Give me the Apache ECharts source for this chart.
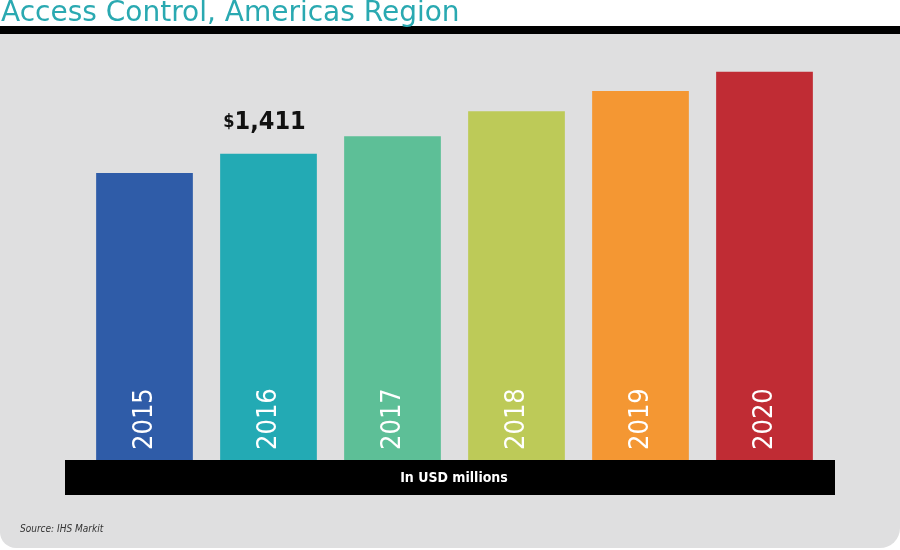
<!DOCTYPE html>
<html>
<head>
<meta charset="utf-8">
<title>Access Control, Americas Region</title>
<script src="https://cdn.jsdelivr.net/npm/echarts@6/dist/echarts.min.js"></script>
<style>
  html, body { margin: 0; padding: 0; background: #fff; }
  #chart { width: 900px; height: 550px; }
</style>
</head>
<body>
<div id="chart"></div>
<script>
// values in USD millions (only 2016 is printed)
const years = ['2015', '2016', '2017', '2018', '2019', '2020'];
const revenue = [1323, 1411, 1492, 1607, 1701, 1789];
const barColors = ['#2f5ca8', '#23aab4', '#5dbf97', '#bdca58', '#f49733', '#c02c34'];
const labelledYear = '2016';

const narrow = "'Liberation Sans Narrow', 'DejaVu Sans Condensed', sans-serif";

const chart = echarts.init(document.getElementById('chart'));

const barData = revenue.map((v, i) => ({
  value: v,
  itemStyle: { color: barColors[i] },
  label: { show: years[i] === labelledYear }
}));

chart.setOption({
  backgroundColor: '#fff',
  animation: false,
  title: {
    text: 'Access Control, Americas Region',
    left: 1,
    top: 0,
    padding: 0,
    textStyle: {
      fontFamily: "'DejaVu Sans', sans-serif",
      fontWeight: 'normal',
      fontSize: 28,
      color: '#2aa9b1'
    }
  },
  grid: { left: 82.5, right: 73.5, top: 26, bottom: 90 },
  xAxis: {
    type: 'category',
    data: years,
    z: 10,
    axisLine: { show: false },
    axisTick: { show: false },
    axisLabel: {
      inside: true,
      rotate: 90,
      margin: 10,
      color: '#fff',
      fontFamily: narrow,
      fontWeight: 500,
      fontSize: 27
    }
  },
  yAxis: {
    type: 'value',
    min: 0,
    max: 2000,
    show: false,
    splitLine: { show: false }
  },
  series: [{
    type: 'bar',
    data: barData,
    barCategoryGap: '22%',
    label: {
      position: 'top',
      distance: 19,
      offset: [-4, 0],
      formatter: p => '{s|$}{v|' + p.value.toLocaleString('en-US') + '}',
      rich: {
        s: { fontFamily: narrow, fontWeight: 'bold', fontSize: 18, color: '#111', verticalAlign: 'middle' },
        v: { fontFamily: narrow, fontWeight: 'bold', fontSize: 25, color: '#111' }
      }
    }
  }],
  graphic: [
    // grey panel with rounded bottom corners
    { type: 'rect', z: -10, shape: { x: 0, y: 30, width: 900, height: 518, r: [0, 0, 20, 16] }, style: { fill: '#dfdfe0' } },
    // black rule under the title
    { type: 'rect', z: -5, shape: { x: 0, y: 26, width: 900, height: 8 }, style: { fill: '#000' } },
    // unit band under the bars
    { type: 'rect', z: 5, shape: { x: 65, y: 460, width: 770, height: 35 }, style: { fill: '#000' } },
    {
      type: 'text', z: 6, x: 454, y: 478,
      style: { text: 'In USD millions', fill: '#fff', font: "bold 14px 'Liberation Sans Narrow', 'DejaVu Sans Condensed', sans-serif", textAlign: 'center', textVerticalAlign: 'middle' }
    },
    {
      type: 'text', z: 6, x: 20, y: 529,
      style: { text: 'Source: IHS Markit', fill: '#333', font: "italic 10px 'Liberation Sans Narrow', 'DejaVu Sans Condensed', sans-serif", textVerticalAlign: 'middle' }
    }
  ]
});
</script>
</body>
</html>
